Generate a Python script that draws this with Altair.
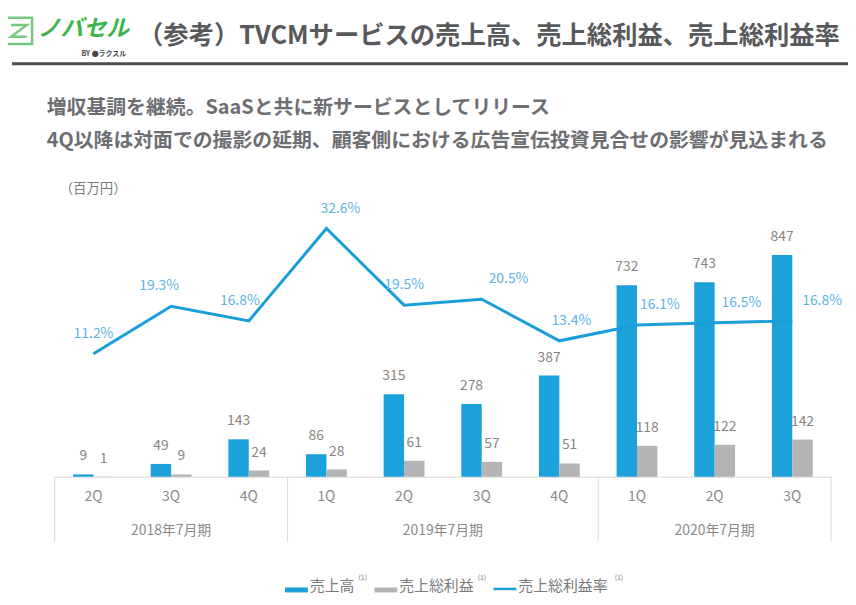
import altair as alt
import pandas as pd

# ---------------- data ----------------
fiscal_years = ["2018年7月期", "2019年7月期", "2020年7月期"]
quarters_per_year = [["2Q", "3Q", "4Q"], ["1Q", "2Q", "3Q", "4Q"], ["1Q", "2Q", "3Q"]]
sales = [9, 49, 143, 86, 315, 278, 387, 732, 743, 847]
gross_profit = [1, 9, 24, 28, 61, 57, 51, 118, 122, 142]
gross_margin = [11.2, 19.3, 16.8, 32.6, 19.5, 20.5, 13.4, 16.1, 16.5, 16.8]
series_names = ["売上高", "売上総利益", "売上総利益率"]

title_text = "（参考）TVCMサービスの売上高、売上総利益、売上総利益率"
subtitle_lines = [
    "増収基調を継続。SaaSと共に新サービスとしてリリース",
    "4Q以降は対面での撮影の延期、顧客側における広告宣伝投資見合せの影響が見込まれる",
]
unit_label = "（百万円）"
logo_text = "ノバセル"
logo_sub = "BY ●ラクスル"
footnote_mark = "(1)"

# ---------------- styles ----------------
FONT = "Noto Sans CJK JP"
BLUE = "#1ca1db"
GRAY_BAR = "#b4b4b7"
LINE_BLUE = "#1a9ed9"
PCT_BLUE = "#5cb4e5"
VAL_COLOR = "#8a8580"
AXIS_TEXT = "#8a8a8a"
FRAME = "#d9d9d9"
GREEN = "#3cb54a"
W, H = 782, 290

# ---------------- tables ----------------
keys = []
for fy, qs in zip(fiscal_years, quarters_per_year):
    for q in qs:
        keys.append(f"{fy}|{q}")

bars_df = pd.DataFrame(
    {
        "key": keys * 2,
        "series": [series_names[0]] * len(keys) + [series_names[1]] * len(keys),
        "value": sales + gross_profit,
    }
)
line_df = pd.DataFrame({"key": keys, "margin": gross_margin, "idx": list(range(len(keys)))})
line_df["label"] = [f"{m:.1f}%" for m in gross_margin]

fy_rows = []
for fy, qs in zip(fiscal_years, quarters_per_year):
    ks = [f"{fy}|{q}" for q in qs]
    n = len(ks)
    fy_rows.append({"fy": fy, "key": ks[n // 2], "even": n % 2 == 0})
fy_df = pd.DataFrame(fy_rows)
sep_start_df = pd.DataFrame({"key": [f"{fy}|{qs[0]}" for fy, qs in zip(fiscal_years, quarters_per_year)]})
sep_end_df = pd.DataFrame({"key": [keys[-1]]})

x_scale = alt.Scale(domain=keys, paddingInner=0, paddingOuter=0)
x_axis = alt.Axis(
    title=None,
    labelExpr="split(datum.label, '|')[1]",
    ticks=False,
    grid=False,
    domainColor=FRAME,
    domainWidth=1,
    labelColor=AXIS_TEXT,
    labelFont=FONT,
    labelFontSize=14,
    labelPadding=13,
    labelAngle=0,
)


def X(band=None):
    if band is None:
        return alt.X("key:N", sort=keys, scale=x_scale, axis=x_axis)
    return alt.X("key:N", sort=keys, scale=x_scale, axis=x_axis, bandPosition=band)


y_bar = alt.Y("value:Q", scale=alt.Scale(domain=[0, 1100]), axis=None)
y_line = alt.Y("margin:Q", scale=alt.Scale(domain=[-9.85, 39.4]), axis=None)
x_off = alt.XOffset("series:N", sort=series_names[:2],
                    scale=alt.Scale(paddingOuter=0.9, paddingInner=0))
color = alt.Color("series:N", scale=alt.Scale(domain=series_names[:2], range=[BLUE, GRAY_BAR]), legend=None)

bars = alt.Chart(bars_df).mark_bar().encode(x=X(), xOffset=x_off, y=y_bar, color=color)
bar_text = alt.Chart(bars_df).mark_text(
    baseline="bottom", dy=-11, fontSize=14, font=FONT, color=VAL_COLOR
).encode(x=X(), xOffset=x_off, y=y_bar, text="value:Q")

line = alt.Chart(line_df).mark_line(color=LINE_BLUE, strokeWidth=3).encode(x=X(), y=y_line)

label_dx = {0: 0, 1: -12, 2: -9, 3: 14, 4: 0, 5: 27, 6: 12, 7: 23, 8: 27, 9: 30}
pct_layers = []
for dx in sorted(set(label_dx.values())):
    idxs = [i for i, d in label_dx.items() if d == dx]
    pct_layers.append(
        alt.Chart(line_df)
        .transform_filter(alt.FieldOneOfPredicate(field="idx", oneOf=idxs))
        .mark_text(dy=-20, dx=dx, fontSize=14, font=FONT, color=PCT_BLUE)
        .encode(x=X(), y=y_line, text="label:N")
    )

# frame below axis
sep_start = alt.Chart(sep_start_df).mark_rule(color=FRAME, strokeWidth=1).encode(
    x=X(0), y=alt.value(H), y2=alt.value(H + 65)
)
sep_end = alt.Chart(sep_end_df).mark_rule(color=FRAME, strokeWidth=1).encode(
    x=X(1), y=alt.value(H), y2=alt.value(H + 65)
)
fy_odd = alt.Chart(fy_df).transform_filter("!datum.even").mark_text(
    fontSize=14, font=FONT, color=AXIS_TEXT, baseline="middle"
).encode(x=X(0.5), y=alt.value(H + 55), text="fy:N")
fy_even = alt.Chart(fy_df).transform_filter("datum.even").mark_text(
    fontSize=14, font=FONT, color=AXIS_TEXT, baseline="middle"
).encode(x=X(0), y=alt.value(H + 55), text="fy:N")


def label(text, x, y, size, color, weight="normal", align="left", style="normal", font=FONT):
    return alt.Chart(pd.DataFrame({"t": [text]})).mark_text(
        align=align, baseline="middle", fontSize=size, color=color,
        fontWeight=weight, fontStyle=style, font=font
    ).encode(text="t:N", x=alt.value(x), y=alt.value(y))


def hrule(x1, x2, y, col, width):
    return alt.Chart(pd.DataFrame({"t": [0]})).mark_rule(color=col, strokeWidth=width).encode(
        x=alt.value(x1), x2=alt.value(x2), y=alt.value(y))


header = [
    label(title_text, 84, -154, 25.5, "#58595b", "bold"),
    label(logo_text, -17, -161, 23, GREEN, "bold", style="italic"),
    label(logo_sub, 27, -136, 7, "#444444", "bold"),
    alt.Chart(pd.DataFrame({"t": [0]})).mark_point(
        shape="M-1,-1H1V1H-1Z M-0.6,-0.45H0.6L-0.6,0.45H0.6",
        filled=False, strokeWidth=2.5, color=GREEN, size=700
    ).encode(x=alt.value(-36), y=alt.value(-159)),
    hrule(-43, 801, -126, "#4d4d4d", 3),
    label(subtitle_lines[0], -8, -81, 20, "#6d6e71", "bold"),
    label(subtitle_lines[1], -8, -48, 20, "#6d6e71", "bold"),
    label(unit_label, 5, 0, 13.5, "#7a7a7a"),
]

# legend
LY = 400
LEG = "#7a7a7a"
legend = [
    hrule(232, 255, LY + 4, BLUE, 5),
    label(series_names[0], 257, LY, 15, LEG),
    label(footnote_mark, 306, LY - 8, 7, LEG),
    hrule(322, 345, LY + 4, GRAY_BAR, 5),
    label(series_names[1], 347, LY, 15, LEG),
    label(footnote_mark, 426, LY - 8, 7, LEG),
    hrule(442, 465, LY + 3, LINE_BLUE, 2.5),
    label(series_names[2], 467, LY, 15, LEG),
    label(footnote_mark, 564, LY - 8, 7, LEG),
]

chart = (
    alt.layer(bars, bar_text, line, *pct_layers, sep_start, sep_end, fy_odd, fy_even, *header, *legend)
    .resolve_scale(y="independent")
    .properties(
        width=W,
        height=H,
        autosize=alt.AutoSizeParams(type="none"),
        padding={"left": 47, "top": 180, "right": 17, "bottom": 117},
        background="white",
    )
    .configure_view(stroke=None)
)

chart.save("out.html", embed_options={"renderer": "svg", "actions": False})
